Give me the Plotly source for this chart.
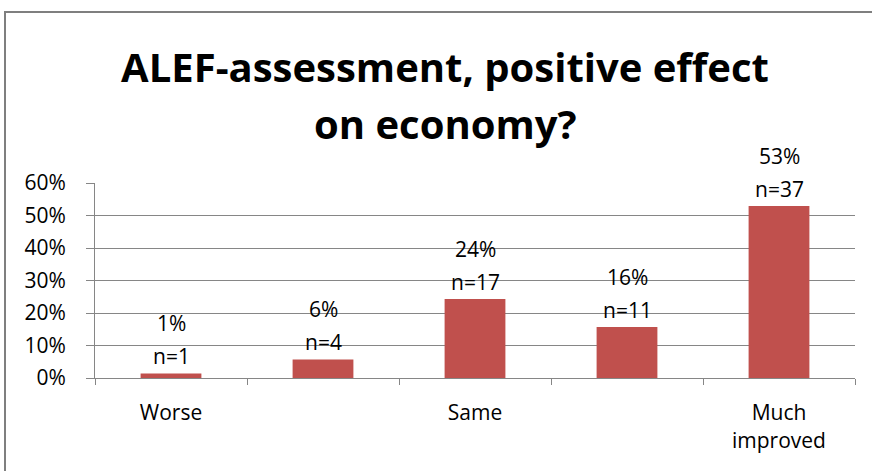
import plotly.graph_objects as go

categories = ["Worse", " ", "Same", "  ", "Much<br>improved"]
percent_values = [1.4, 5.7, 24.3, 15.7, 52.9]
percent_labels = ["1%", "6%", "24%", "16%", "53%"]
n_labels = ["n=1", "n=4", "n=17", "n=11", "n=37"]
y_tick_values = [0, 10, 20, 30, 40, 50, 60]
y_tick_labels = ["0%", "10%", "20%", "30%", "40%", "50%", "60%"]
title_line1 = "ALEF-assessment, positive effect"
title_line2 = "on economy?"

FONT = "Open Sans"
GRID = "#868686"
W, H = 872, 471
LBL = 21

fig = go.Figure()
fig.add_trace(go.Bar(
    x=categories, y=percent_values,
    marker=dict(color="#C0504D", line=dict(width=0)),
    width=0.4, hoverinfo="skip",
))

for c, v, p, n in zip(categories, percent_values, percent_labels, n_labels):
    fig.add_annotation(x=c, y=v, text=n, showarrow=False, yanchor="bottom",
                       yshift=1, font=dict(family=FONT, size=LBL, color="black"))
    fig.add_annotation(x=c, y=v, text=p, showarrow=False, yanchor="bottom",
                       yshift=34, font=dict(family=FONT, size=LBL, color="black"))

fig.add_annotation(text="<b>" + title_line2 + "</b>", xref="paper", yref="paper",
                   x=(445 - 95) / 760, y=(378 - 123) / 195, xanchor="center",
                   yanchor="middle", showarrow=False,
                   font=dict(family=FONT, size=40, color="black"))

fig.update_layout(
    width=W, height=H,
    margin=dict(l=95, r=17, t=183, b=93, autoexpand=False),
    paper_bgcolor="white", plot_bgcolor="white",
    showlegend=False,
    font=dict(family=FONT, size=LBL, color="black"),
    title=dict(text="<b>" + title_line1 + "</b>",
               x=445 / W, xref="container", xanchor="center",
               y=1 - 68 / H, yref="container", yanchor="middle",
               font=dict(family=FONT, size=40, color="black")),
    xaxis=dict(type="category", tickson="boundaries", ticks="outside",
               ticklen=6, tickcolor=GRID, showline=True, linecolor=GRID,
               linewidth=1, showgrid=False, ticklabelstandoff=16,
               tickfont=dict(family=FONT, size=LBL, color="black")),
    yaxis=dict(range=[0, 60], tickvals=y_tick_values, ticktext=y_tick_labels,
               ticks="outside", ticklen=8, tickcolor=GRID, showline=True,
               linecolor=GRID, linewidth=1, showgrid=True, gridcolor=GRID,
               gridwidth=1, zeroline=False, ticklabelstandoff=16,
               tickfont=dict(family=FONT, size=LBL, color="black")),
    shapes=[dict(type="rect", xref="paper", yref="paper",
                 x0=(5 - 95) / 760, x1=1.2, y0=-1.0, y1=(378 - 12) / 195,
                 line=dict(color="#7f7f7f", width=2), fillcolor="rgba(0,0,0,0)",
                 layer="below")],
)

fig.write_html("out.html", config={"displayModeBar": False},
               post_script="document.body.style.margin='0';")
